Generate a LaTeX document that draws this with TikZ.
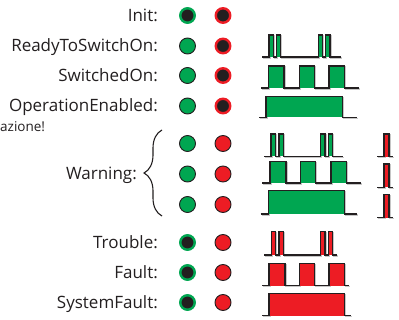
\documentclass[tikz,border=0pt]{standalone}
\usepackage{fontspec}
\setmainfont{Open Sans}
\usetikzlibrary{positioning,decorations.pathreplacing}

\definecolor{ledgreen}{HTML}{00A651}
\definecolor{ledred}{HTML}{ED1C24}
\definecolor{ink}{HTML}{231F20}

% colour, base, top, from, to, list of pulses
\newcommand{\signal}[6]{%
  \draw[shadeline] (#4+1,#2+1) \foreach \a/\b in {#6} {
	-- (\a+1,#2+1) -- (\a+1,#3+1) -- (\b+1,#3+1) -- (\b+1,#2+1) } -- (#5+1,#2+1);
  \foreach \a/\b in {#6} \fill[#1] (\a,#2) rectangle (\b,#3);
  \draw[trace] (#4,#2) \foreach \a/\b in {#6} {
	-- (\a,#2) -- (\a,#3) -- (\b,#3) -- (\b,#2) } -- (#5,#2);
}

\begin{document}
\begin{tikzpicture}[x=1pt, y=-1pt,
	led/.style = { circle, inner sep=0pt },
	green on/.style = { led, minimum size=16pt, fill=ledgreen, draw=ink, line width=0.9pt },
	red on/.style = { led, minimum size=16pt, fill=ledred, draw=ink, line width=0.9pt },
	green off/.style = { led, minimum size=14.5pt, fill=ink, draw=ledgreen, line width=2.4pt },
	red off/.style = { led, minimum size=14.5pt, fill=ink, draw=ledred, line width=2.4pt },
	lbl/.style = { anchor=base east, inner sep=0pt, text=ink,
	font=\fontsize{17}{19}\selectfont },
	trace/.style = { draw=ink, line width=1.3pt, line join=miter },
	shadeline/.style = { draw=gray!45, line width=1.3pt } ]

  \useasboundingbox[fill=white] (0,0) rectangle (399,320);

  % labels
  \node [name=init-l, lbl] at (158,21.5) {Init:};
  \node [name=ready-l, lbl] at (158,52) {ReadyToSwitchOn:};
  \node [name=swon-l, lbl] at (158,81.5) {SwitchedOn:};
  \node [name=open-l, lbl] at (158,112) {OperationEnabled:};
  \node [name=warn-l, lbl] at (137,180) {Warning:};
  \node [name=troub-l, lbl] at (158,248.5) {Trouble:};
  \node [name=fault-l, lbl] at (158,278.5) {Fault:};
  \node [name=sysf-l, lbl] at (158,308.5) {SystemFault:};
  \node [name=note, anchor=base west, inner sep=0pt, text=ink,
	font=\fontsize{13.5}{15}\selectfont] at (0,131.5) {azione!};

  \draw [ink, line width=1.1pt, decorate,
	decoration={brace, amplitude=18pt}] (162,216) -- (162,130);

  % green and red leds
  \node [name=init-g, green off] at (187.5,15.5) {};
  \node [name=init-r, red off] at (223,15.5) {};
  \node [name=ready-g, green on] at (187.5,46) {};
  \node [name=ready-r, red off] at (223,46) {};
  \node [name=swon-g, green on] at (187.5,75.5) {};
  \node [name=swon-r, red off] at (223,75.5) {};
  \node [name=open-g, green on] at (187.5,106) {};
  \node [name=open-r, red off] at (223,106) {};
  \node [name=warn1-g, green on] at (187.5,143.5) {};
  \node [name=warn1-r, red on] at (223,143.5) {};
  \node [name=warn2-g, green on] at (187.5,174) {};
  \node [name=warn2-r, red on] at (223,174) {};
  \node [name=warn3-g, green on] at (187.5,204.5) {};
  \node [name=warn3-r, red on] at (223,204.5) {};
  \node [name=troub-g, green off] at (187.5,242.5) {};
  \node [name=troub-r, red on] at (223,242.5) {};
  \node [name=fault-g, green off] at (187.5,272.5) {};
  \node [name=fault-r, red on] at (223,272.5) {};
  \node [name=sysf-g, green off] at (187.5,302.5) {};
  \node [name=sysf-r, red on] at (223,302.5) {};

  % signals
  \signal{ledgreen}{57}{35}{262}{341}{269/273.3, 276.7/280.7, 318.3/322.7, 325.7/330}
  \signal{ledgreen}{88}{66}{261}{359}{268.3/284, 299.3/314.3, 329/344.3}
  \signal{ledgreen}{117.5}{96.5}{259}{357}{266/342.3}
  \signal{ledgreen}{156.3}{134}{264}{343}{271/275.7, 279/283.3, 320.7/325, 328.3/332.7}
  \signal{ledgreen}{183}{161.3}{262.3}{361}{270/286, 300.7/315.7, 331/346.7}
  \signal{ledgreen}{214}{190.3}{260.7}{356.7}{268.3/344.3}
  \signal{ledred}{156.7}{134}{377}{393}{384/389}
  \signal{ledred}{187.3}{164}{377}{393}{384/389}
  \signal{ledred}{217.7}{194.3}{377}{393}{384/389}
  \signal{ledred}{255}{231.7}{264}{336.7}{271.7/275.7, 279/283.3, 320.7/325, 328.3/332.7}
  \signal{ledred}{285.7}{263.3}{262.3}{349.3}{269/285, 299.3/314.3, 329/344.3}
  \signal{ledred}{315.7}{293.3}{262.3}{351}{269/344.3}
\end{tikzpicture}
\end{document}
